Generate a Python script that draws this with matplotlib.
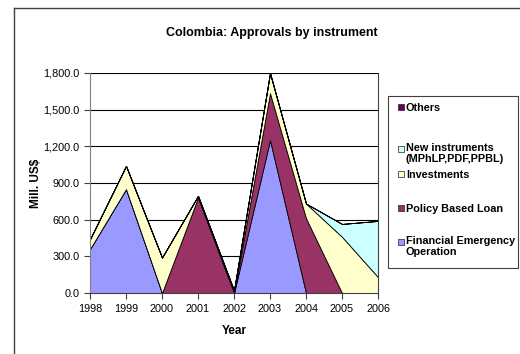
import matplotlib.pyplot as plt
import matplotlib.patches as mpatches
from matplotlib.lines import Line2D
from matplotlib.ticker import FuncFormatter
import numpy as np

plt.rcParams['font.family'] = ['Liberation Sans', 'DejaVu Sans']

years = ["1998", "1999", "2000", "2001", "2002", "2003", "2004", "2005", "2006"]
feo = [360, 850, 0, 0, 0, 1250, 0, 0, 0]
pbl = [0, 0, 0, 780, 0, 385, 612, 0, 0]
investments = [80, 190, 290, 15, 20, 165, 120, 460, 130]
new_instr = [0, 0, 0, 0, 0, 0, 0, 105, 460]
others = [0, 0, 0, 0, 0, 0, 0, 0, 0]

labels = ["Financial Emergency\nOperation", "Policy Based Loan", "Investments",
          "New instruments\n(MPhLP,PDF,PPBL)", "Others"]
colors = ["#9999ff", "#993366", "#ffffcc", "#ccffff", "#660066"]

W, H = 520, 354
fig = plt.figure(figsize=(W / 100, H / 100), dpi=100)


def fx(px):
    return px / W


def fy(py):
    return 1 - py / H


# outer chart border (only left and top edges fall inside the image)
fig.add_artist(Line2D([fx(14), fx(14)], [0, fy(8)], color="#404040", lw=1.0))
fig.add_artist(Line2D([fx(14), 1], [fy(8), fy(8)], color="#404040", lw=1.0))

ax = fig.add_axes([fx(90), fy(293), fx(288), 220 / H])
x = np.arange(len(years))
ax.stackplot(x, feo, pbl, investments, new_instr, others,
             colors=colors, edgecolor="black", linewidth=0.6)

ax.set_xlim(0, len(years) - 1)
ax.set_ylim(0, 1800)
ax.set_yticks(np.arange(0, 1801, 300))
ax.yaxis.set_major_formatter(FuncFormatter(lambda v, p: f"{v:,.1f}"))
ax.set_xticks(x)
ax.set_xticklabels(years)
ax.grid(axis="y", color="black", linewidth=0.8)
ax.set_axisbelow(True)
ax.spines["top"].set_visible(False)
ax.spines["left"].set_color("#808080")
ax.spines["right"].set_color("#404040")
ax.spines["bottom"].set_color("#404040")
ax.tick_params(axis="both", labelsize=7.8, length=4, width=0.8, color="#404040")
ax.tick_params(axis="x", pad=4)

ax.set_xlabel("Year", fontsize=8.5, fontweight="bold", labelpad=8)
ax.set_ylabel("Mill. US$", fontsize=8.5, fontweight="bold", labelpad=1)
fig.text(fx(272), fy(33), "Colombia: Approvals by instrument",
         ha="center", va="center", fontsize=9, fontweight="bold")

# legend box, entries listed top to bottom
fig.add_artist(mpatches.Rectangle((fx(388), fy(268)), fx(130), 172 / H,
                                  transform=fig.transFigure,
                                  facecolor="white", edgecolor="#404040", lw=0.8))
legend_rows = [107, 149, 174, 208, 242]
for lab, col, yp in zip(labels[::-1], colors[::-1], legend_rows):
    fig.add_artist(mpatches.Rectangle((fx(398), fy(yp + 3)), fx(6), 6 / H,
                                      transform=fig.transFigure,
                                      facecolor=col, edgecolor="#202020", lw=0.5))
    # single-line labels sit a little lower to centre on their swatch
    top = yp - 5.5 if "\n" in lab else yp - 4
    fig.text(fx(406), fy(top), lab, ha="left", va="top", fontsize=7.8,
             fontweight="bold", linespacing=1.05)

fig.savefig("out.png", dpi=100)
